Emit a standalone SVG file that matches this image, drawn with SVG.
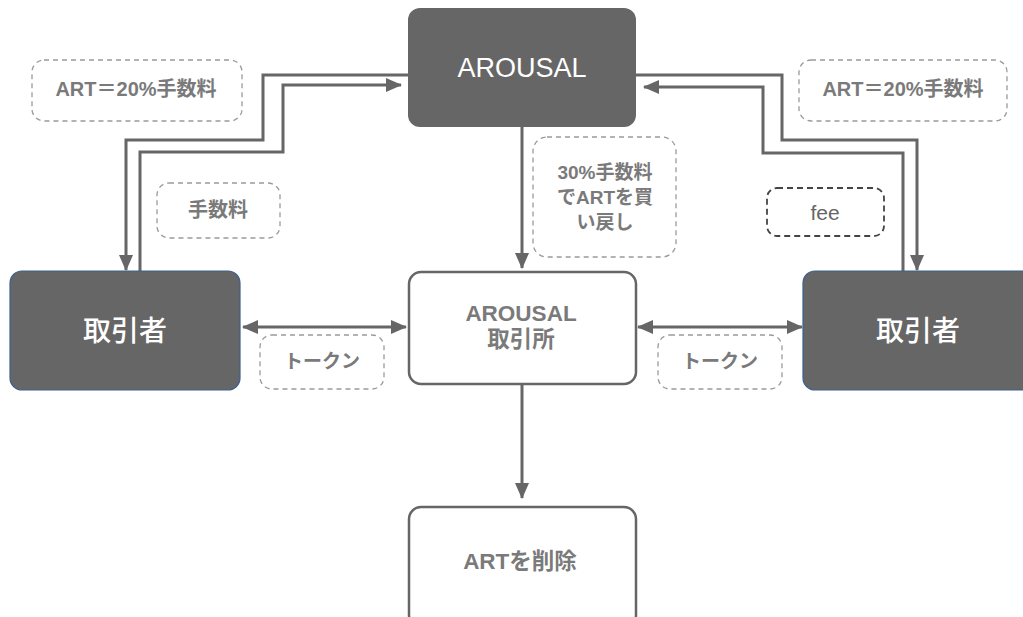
<svg xmlns="http://www.w3.org/2000/svg" width="1023" height="617" viewBox="0 0 1023 617">
<defs>
<marker id="ah" viewBox="0 0 16 14" refX="15" refY="7" markerWidth="16" markerHeight="14" markerUnits="userSpaceOnUse" orient="auto-start-reverse">
<path d="M0,0 L16,7 L0,14 Z" fill="#666"/>
</marker>
<style>
.dark{fill:#666;stroke:#3d5f8f;stroke-width:1.2}
.top{fill:#666;stroke:none}
.white{fill:#fff;stroke:#666;stroke-width:2.5}
.lbl{fill:#fff;stroke:#9a9a9a;stroke-width:1.3;stroke-dasharray:5 4}
.lbl2{fill:#fff;stroke:#444;stroke-width:1.8;stroke-dasharray:6 4}
.conn{fill:none;stroke:#666;stroke-width:3}
text{font-family:"Liberation Sans","Noto Sans CJK JP",sans-serif;text-anchor:middle;dominant-baseline:central}
.t{fill:#7a7a7a;font-weight:bold;font-size:20px}
.big{font-size:22.5px}
.mid{font-size:19px}
.w{fill:#fff}
</style>
</defs>
<rect width="1023" height="617" fill="#fff"/>
<g id="connectors">
<polyline class="conn" points="408,75 263,75 263,140 126,140 126,270" marker-end="url(#ah)"/>
<polyline class="conn" points="140,271 140,152 283,152 283,85 401,85" marker-end="url(#ah)"/>
<polyline class="conn" points="636,75 782,75 782,140 917,140 917,270" marker-end="url(#ah)"/>
<polyline class="conn" points="903,271 903,153 763,153 763,87 644,87" marker-end="url(#ah)"/>
<line class="conn" x1="522" y1="127" x2="522" y2="268" marker-end="url(#ah)"/>
<line class="conn" x1="243" y1="327" x2="406" y2="327" marker-start="url(#ah)" marker-end="url(#ah)"/>
<line class="conn" x1="638" y1="327" x2="802" y2="327" marker-start="url(#ah)" marker-end="url(#ah)"/>
<line class="conn" x1="522" y1="385" x2="522" y2="498" marker-end="url(#ah)"/>
</g>
<g id="arousal">
<rect class="top" x="408" y="8" width="228" height="119" rx="12"/>
<text class="w" x="522" y="68" font-size="27">AROUSAL</text>
</g>
<g id="trader-left">
<rect class="dark" x="10" y="271" width="230" height="119" rx="12"/>
<text class="w" x="125" y="331" font-size="28" font-weight="500">取引者</text>
</g>
<g id="trader-right">
<rect class="dark" x="803" y="271" width="232" height="119" rx="12"/>
<text class="w" x="918" y="331" font-size="28" font-weight="500">取引者</text>
</g>
<g id="exchange">
<rect class="white" x="409" y="272" width="227" height="112" rx="12"/>
<text class="t big" x="521" y="313">AROUSAL</text>
<text class="t big" x="521" y="339">取引所</text>
</g>
<g id="delete">
<rect class="white" x="409" y="507" width="227" height="120" rx="12"/>
<text class="t big" x="520" y="561">ARTを削除</text>
</g>
<g id="label-art-left">
<rect class="lbl" x="32" y="60" width="210" height="61" rx="12"/>
<text class="t" x="136" y="89">ART＝20%手数料</text>
</g>
<g id="label-art-right">
<rect class="lbl" x="799" y="60" width="208" height="61" rx="12"/>
<text class="t" x="903" y="89">ART＝20%手数料</text>
</g>
<g id="label-fee-jp">
<rect class="lbl" x="157" y="183" width="123" height="55" rx="12"/>
<text class="t" x="218" y="210">手数料</text>
</g>
<g id="label-fee">
<rect class="lbl2" x="767" y="188" width="117" height="48" rx="10"/>
<text x="825" y="212" font-size="21" fill="#666">fee</text>
</g>
<g id="label-buyback">
<rect class="lbl" x="533" y="137" width="143" height="120" rx="14"/>
<text class="t mid" x="605" y="172">30%手数料</text>
<text class="t mid" x="605" y="197">でARTを買</text>
<text class="t mid" x="605" y="222">い戻し</text>
</g>
<g id="label-token-left">
<rect class="lbl" x="260" y="335" width="124" height="54" rx="12"/>
<text class="t mid" x="322" y="361">トークン</text>
</g>
<g id="label-token-right">
<rect class="lbl" x="658" y="335" width="124" height="54" rx="12"/>
<text class="t mid" x="720" y="361">トークン</text>
</g>
</svg>
